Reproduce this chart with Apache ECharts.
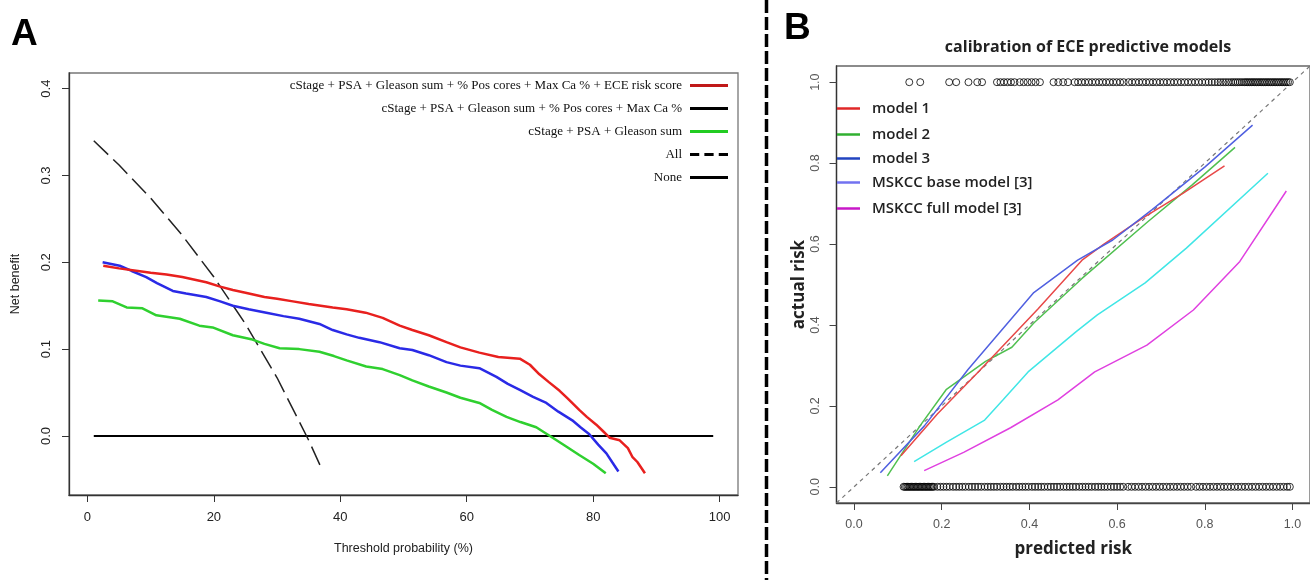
<!DOCTYPE html>
<html><head><meta charset="utf-8">
<script src="https://cdn.jsdelivr.net/npm/echarts@6/dist/echarts.min.js"></script>
<style>html,body{margin:0;padding:0;background:#fff}#c{width:1310px;height:580px}</style>
</head><body><div id="c"></div>
<script>
// ---------- Panel A: decision curves ----------
const thrTicks = [0, 20, 40, 60, 80, 100];
const nbTicks = [0, 0.1, 0.2, 0.3, 0.4];
const legendA = [
  "cStage + PSA + Gleason sum + % Pos cores + Max Ca % + ECE risk score",
  "cStage + PSA + Gleason sum + % Pos cores + Max Ca %",
  "cStage + PSA + Gleason sum",
  "All",
  "None"
];
const redX = [2.5, 5, 8, 10, 12.5, 15, 18.8, 21, 23, 25, 28, 30, 32.5, 35, 38.8, 41, 44, 46.7, 49.4, 51.4, 54, 56.8, 59, 62, 65, 68.4, 70, 71.5, 73, 74.7, 76, 77.8, 79, 80.5, 81.5, 82.6, 84.2, 85.5, 86.2, 87, 88.2];
const redY = [0.196, 0.193, 0.190, 0.188, 0.186, 0.183, 0.177, 0.172, 0.168, 0.165, 0.160, 0.158, 0.155, 0.152, 0.148, 0.146, 0.142, 0.136, 0.127, 0.122, 0.116, 0.108, 0.102, 0.096, 0.091, 0.089, 0.082, 0.071, 0.062, 0.052, 0.043, 0.030, 0.022, 0.013, 0.006, -0.002, -0.005, -0.014, -0.024, -0.030, -0.043];
const blueX = [2.4, 5.1, 7, 9.3, 11, 13.5, 15.6, 18.8, 21, 23, 25.5, 28.3, 31, 33.5, 36.7, 38.8, 41, 43, 46.2, 49.4, 51.4, 54, 56.8, 59, 62, 64.7, 66.5, 68.4, 70.5, 72.6, 74.5, 76.7, 78, 79.4, 80.8, 82.1, 83, 84];
const blueY = [0.200, 0.196, 0.190, 0.183, 0.176, 0.167, 0.164, 0.160, 0.155, 0.150, 0.146, 0.142, 0.138, 0.135, 0.129, 0.122, 0.117, 0.113, 0.108, 0.101, 0.099, 0.093, 0.085, 0.081, 0.078, 0.068, 0.060, 0.053, 0.045, 0.038, 0.028, 0.018, 0.010, 0.002, -0.010, -0.020, -0.030, -0.041];
const greenX = [1.7, 4, 6.2, 8.7, 10.9, 14.6, 17.7, 19.8, 23, 26.1, 28, 30.4, 33.5, 36.7, 39, 41, 44.1, 46.7, 49.4, 51.4, 54, 56.8, 59, 62, 64, 66.3, 68.5, 71, 73.6, 75.5, 77.8, 80, 82];
const greenY = [0.156, 0.155, 0.148, 0.147, 0.139, 0.135, 0.127, 0.125, 0.116, 0.111, 0.106, 0.101, 0.100, 0.097, 0.092, 0.087, 0.080, 0.077, 0.070, 0.064, 0.057, 0.050, 0.044, 0.038, 0.030, 0.022, 0.016, 0.010, -0.002, -0.011, -0.022, -0.032, -0.043];
const allX = [1, 5, 10, 15, 20, 25, 30, 35, 37];
const allY = [0.340, 0.312, 0.274, 0.231, 0.183, 0.129, 0.067, -0.005, -0.037];
const noneX = [1, 99];
const noneY = [0, 0];

// ---------- Panel B: calibration ----------
const calTicks = [0, 0.2, 0.4, 0.6, 0.8, 1.0];
const legendB = ["model 1", "model 2", "model 3", "MSKCC base model [3]", "MSKCC full model [3]"];
const m1X = [0.107, 0.19, 0.28, 0.42, 0.52, 0.57, 0.66, 0.75, 0.845];
const m1Y = [0.077, 0.18, 0.28, 0.44, 0.56, 0.60, 0.665, 0.725, 0.793];
const m2X = [0.076, 0.15, 0.21, 0.30, 0.36, 0.41, 0.52, 0.67, 0.77, 0.869];
const m2Y = [0.027, 0.15, 0.24, 0.31, 0.345, 0.405, 0.515, 0.655, 0.745, 0.839];
const m3X = [0.06, 0.16, 0.26, 0.41, 0.51, 0.59, 0.68, 0.80, 0.909];
const m3Y = [0.035, 0.15, 0.29, 0.48, 0.56, 0.61, 0.685, 0.79, 0.894];
const baseX = [0.137, 0.21, 0.298, 0.34, 0.397, 0.506, 0.555, 0.664, 0.758, 0.944];
const baseY = [0.062, 0.11, 0.165, 0.215, 0.284, 0.383, 0.425, 0.504, 0.59, 0.775];
const fullX = [0.16, 0.25, 0.357, 0.465, 0.549, 0.668, 0.774, 0.88, 0.986];
const fullY = [0.040, 0.085, 0.146, 0.215, 0.284, 0.35, 0.437, 0.557, 0.731];
const diag = [-0.04, 1.04];
const rugTopX = [0.126, 0.151, 0.217, 0.233, 0.261, 0.281, 0.292, 0.326, 0.334, 0.342, 0.350, 0.358, 0.366, 0.378, 0.387, 0.396, 0.405, 0.414, 0.424, 0.455, 0.466, 0.477, 0.488,
  0.503, 0.511, 0.519, 0.527, 0.535, 0.543, 0.551, 0.559, 0.567, 0.575, 0.583, 0.591, 0.599, 0.607, 0.615, 0.626, 0.634, 0.642, 0.650, 0.658, 0.666, 0.674, 0.682, 0.690, 0.698, 0.706, 0.714, 0.722, 0.730, 0.738, 0.746, 0.754, 0.762, 0.770, 0.778, 0.786, 0.794, 0.802, 0.809, 0.816, 0.823, 0.830, 0.836, 0.842, 0.848, 0.854, 0.860, 0.865, 0.870, 0.875, 0.880, 0.885, 0.890, 0.894, 0.898, 0.902, 0.906, 0.910, 0.914, 0.918, 0.922, 0.926, 0.930, 0.934, 0.938, 0.942, 0.946, 0.950, 0.954, 0.958, 0.962, 0.966, 0.970, 0.974, 0.978, 0.982, 0.986, 0.990, 0.994];
const rugBottomX = [0.113, 0.116, 0.119, 0.122, 0.125, 0.128, 0.131, 0.134, 0.137, 0.140, 0.143, 0.146, 0.149, 0.152, 0.155, 0.158, 0.161, 0.164, 0.167, 0.170, 0.173, 0.176, 0.179, 0.182,
  0.190, 0.197, 0.204, 0.211, 0.218, 0.226, 0.233, 0.240, 0.247, 0.254, 0.262, 0.269, 0.276, 0.283, 0.290, 0.298, 0.305, 0.312, 0.319, 0.326, 0.334, 0.341, 0.348, 0.355, 0.362, 0.370, 0.377, 0.384, 0.391, 0.398, 0.406, 0.413, 0.420, 0.427, 0.434, 0.442, 0.449, 0.456, 0.463, 0.470, 0.478, 0.485, 0.492, 0.499, 0.506, 0.514, 0.521, 0.528, 0.535, 0.542, 0.550, 0.557, 0.564, 0.571, 0.578, 0.586, 0.593, 0.600, 0.607, 0.614, 0.625, 0.633, 0.641, 0.649, 0.657, 0.665, 0.673, 0.681, 0.689, 0.697, 0.705, 0.713, 0.721, 0.729, 0.737, 0.745, 0.753, 0.761, 0.769, 0.780, 0.788, 0.796, 0.804, 0.812, 0.820, 0.828, 0.836, 0.844, 0.852, 0.860, 0.868, 0.876, 0.884, 0.892, 0.900, 0.908, 0.916, 0.924, 0.932, 0.940, 0.948, 0.956, 0.964, 0.972, 0.980, 0.988, 0.994];

const zip = (xs, ys) => xs.map((x, i) => [x, ys[i]]);
const SANS = 'Liberation Sans, Arial, sans-serif';
const SERIF = 'Liberation Serif, Times New Roman, serif';
const BOLD = 'Open Sans, Noto Sans, sans-serif';

const chart = echarts.init(document.getElementById('c'), null, {renderer: 'canvas'});

function lineSeries(name, data, color, width, type, axis) {
  return {
    name, type: 'line', data, xAxisIndex: axis, yAxisIndex: axis,
    symbol: 'none', smooth: false, animation: false, silent: true,
    lineStyle: {color, width, type: type || 'solid'},
    itemStyle: {color}
  };
}

const ICON_SOLID_A = 'path://M0,0h38v3h-38z';
const ICON_DASH_A = 'path://M0,0h9v3h-9z M14,0h9v3h-9z M28,0h9v3h-9z';
const ICON_SOLID_B = 'path://M0,0h23v2.5h-23z';
const legendBY = [109, 135, 159, 183, 209];
const legendBColors = ['#e02828', '#30b030', '#2244c0', '#7272f0', '#c818c8'];
const legendAColors = ['#c01818', '#000', '#22cc22', '#000', '#000'];
const legendAIcons = [ICON_SOLID_A, ICON_SOLID_A, ICON_SOLID_A, ICON_DASH_A, ICON_SOLID_A];

const option = {
  animation: false,
  backgroundColor: '#fff',
  grid: [
    {left: 69, top: 73, width: 669, height: 422, show: true, borderColor: '#777', borderWidth: 1.3, containLabel: false},
    {left: 836.5, top: 66, width: 478.5, height: 437, show: true, borderColor: '#666', borderWidth: 1.3, containLabel: false}
  ],
  xAxis: [
    {type: 'value', gridIndex: 0, min: -2.92, max: 102.92,
      axisLine: {show: true, onZero: false, lineStyle: {color: '#333', width: 1.3}},
      axisTick: {show: true, length: 7, customValues: thrTicks, lineStyle: {color: '#333'}},
      axisLabel: {customValues: thrTicks, margin: 16, fontFamily: SANS, fontSize: 13, color: '#222'},
      splitLine: {show: false},
      name: 'Threshold probability (%)', nameLocation: 'middle', nameGap: 47,
      nameTextStyle: {fontFamily: SANS, fontSize: 12.5, color: '#222'}},
    {type: 'value', gridIndex: 1, min: -0.04, max: 1.04,
      axisLine: {show: true, onZero: false, lineStyle: {color: '#444', width: 1.3}},
      axisTick: {show: true, length: 7, customValues: calTicks, lineStyle: {color: '#444'}},
      axisLabel: {customValues: calTicks, margin: 15, fontFamily: SANS, fontSize: 12.5, color: '#555',
        formatter: v => v.toFixed(1)},
      splitLine: {show: false},
      name: 'predicted risk', nameLocation: 'middle', nameGap: 38,
      nameTextStyle: {fontFamily: BOLD, fontWeight: 'bold', fontSize: 17, color: '#222'}}
  ],
  yAxis: [
    {type: 'value', gridIndex: 0, min: -0.068, max: 0.418,
      axisLine: {show: true, onZero: false, lineStyle: {color: '#333', width: 1.3}},
      axisTick: {show: true, length: 7, customValues: nbTicks, lineStyle: {color: '#333'}},
      axisLabel: {customValues: nbTicks, margin: 16, rotate: 90, fontFamily: SANS, fontSize: 13, color: '#222',
        formatter: v => v.toFixed(1)},
      splitLine: {show: false},
      name: 'Net benefit', nameLocation: 'middle', nameGap: 47,
      nameTextStyle: {fontFamily: SANS, fontSize: 12.5, color: '#222'}},
    {type: 'value', gridIndex: 1, min: -0.04, max: 1.04,
      axisLine: {show: true, onZero: false, lineStyle: {color: '#333', width: 1.3}},
      axisTick: {show: true, length: 7, customValues: calTicks, lineStyle: {color: '#444'}},
      axisLabel: {customValues: calTicks, margin: 14, rotate: 90, fontFamily: SANS, fontSize: 12.5, color: '#555',
        formatter: v => v.toFixed(1)},
      splitLine: {show: false},
      name: 'actual risk', nameLocation: 'middle', nameGap: 29,
      nameTextStyle: {fontFamily: BOLD, fontWeight: 'bold', fontSize: 17, color: '#222'}}
  ],
  legend: [
    {orient: 'vertical', align: 'right', right: 582, top: 79, padding: 0, itemWidth: 38, itemHeight: 3, itemGap: 10,
      selectedMode: false, symbolKeepAspect: false,
      textStyle: {fontFamily: SERIF, fontSize: 13, color: '#111', padding: [0, 3, 0, 0]},
      data: legendA.map((n, i) => ({name: n, icon: legendAIcons[i], itemStyle: {color: legendAColors[i]}}))}
  ].concat(legendB.map((n, i) => ({
    orient: 'vertical', left: 837, top: legendBY[i] - 8, padding: 0, itemWidth: 23, itemHeight: 2.5,
    selectedMode: false, symbolKeepAspect: false,
    textStyle: {fontFamily: BOLD, fontWeight: 600, fontSize: 15, color: '#222', padding: [0, 0, 0, 7]},
    data: [{name: n, icon: ICON_SOLID_B, itemStyle: {color: legendBColors[i]}}]
  }))),
  graphic: [
    {type: 'text', left: 11, top: 16, style: {text: 'A', font: 'bold 37px Liberation Sans, Arial, sans-serif', fill: '#000'}},
    {type: 'text', left: 784, top: 10, style: {text: 'B', font: 'bold 37px Liberation Sans, Arial, sans-serif', fill: '#000'}},
    {type: 'text', x: 1088, y: 47, style: {text: 'calibration of ECE predictive models', font: 'bold 16px Open Sans, sans-serif',
      fill: '#222', align: 'center', verticalAlign: 'middle'}},
    {type: 'line', shape: {x1: 766.5, y1: 0, x2: 766.5, y2: 580},
      style: {stroke: '#000', lineWidth: 3.5, lineDash: [13, 4]}}
  ],
  series: [
    lineSeries(legendA[4], zip(noneX, noneY), '#000', 2, 'solid', 0),
    lineSeries(legendA[3], zip(allX, allY), '#222', 1.5, [20, 7], 0),
    lineSeries(legendA[2], zip(greenX, greenY), '#2fd02f', 2.5, 'solid', 0),
    lineSeries(legendA[1], zip(blueX, blueY), '#2a2ae6', 2.5, 'solid', 0),
    lineSeries(legendA[0], zip(redX, redY), '#e8201e', 2.5, 'solid', 0),

    lineSeries('diagonal', zip(diag, diag), '#777', 1.2, [4, 4], 1),
    {name: 'rugTop', type: 'scatter', xAxisIndex: 1, yAxisIndex: 1, silent: true, animation: false,
      symbol: 'circle', symbolSize: 7,
      itemStyle: {color: 'rgba(0,0,0,0)', borderColor: '#000', borderWidth: 1},
      data: rugTopX.map(x => [x, 1])},
    {name: 'rugBottom', type: 'scatter', xAxisIndex: 1, yAxisIndex: 1, silent: true, animation: false,
      symbol: 'circle', symbolSize: 7,
      itemStyle: {color: 'rgba(0,0,0,0)', borderColor: '#000', borderWidth: 1},
      data: rugBottomX.map(x => [x, 0])},
    lineSeries(legendB[4], zip(fullX, fullY), '#e040e0', 1.5, 'solid', 1),
    lineSeries(legendB[3], zip(baseX, baseY), '#40e6e6', 1.5, 'solid', 1),
    lineSeries(legendB[1], zip(m2X, m2Y), '#50c050', 1.5, 'solid', 1),
    lineSeries(legendB[0], zip(m1X, m1Y), '#e84848', 1.5, 'solid', 1),
    lineSeries(legendB[2], zip(m3X, m3Y), '#5060e0', 1.5, 'solid', 1)
  ]
};
chart.setOption(option);
</script>
</body></html>
